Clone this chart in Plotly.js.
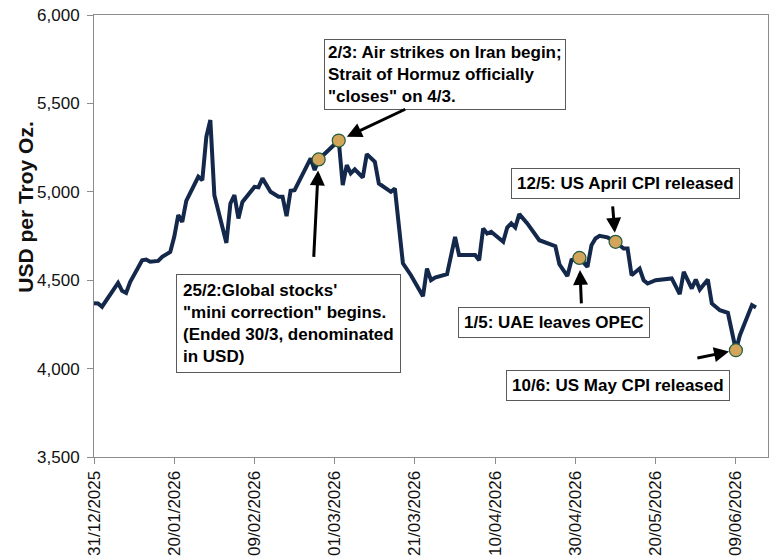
<!DOCTYPE html>
<html>
<head>
<meta charset="utf-8">
<script src="https://cdn.plot.ly/plotly-3.0.1.min.js"></script>
<style>
  html, body { margin: 0; padding: 0; background: #fff; }
  #chart { width: 770px; height: 560px; }
</style>
</head>
<body>
<div id="chart"></div>
<script>
// Gold spot price, USD per troy ounce
const tradeDates = [
  '2025-12-31','2026-01-01','2026-01-02','2026-01-06','2026-01-07','2026-01-08','2026-01-09',
  '2026-01-12','2026-01-13','2026-01-14','2026-01-16','2026-01-17','2026-01-19','2026-01-20',
  '2026-01-21','2026-01-22','2026-01-23','2026-01-26','2026-01-27','2026-01-28','2026-01-29',
  '2026-01-30','2026-02-02','2026-02-03','2026-02-04','2026-02-05','2026-02-06','2026-02-09',
  '2026-02-10','2026-02-11','2026-02-13','2026-02-15','2026-02-16','2026-02-17','2026-02-18',
  '2026-02-19','2026-02-23','2026-02-24','2026-02-25','2026-03-02','2026-03-03','2026-03-04',
  '2026-03-05','2026-03-06','2026-03-08','2026-03-09','2026-03-11','2026-03-12','2026-03-15',
  '2026-03-16','2026-03-18','2026-03-20','2026-03-23','2026-03-24','2026-03-25','2026-03-26',
  '2026-03-29','2026-03-31','2026-04-01','2026-04-05','2026-04-06','2026-04-07','2026-04-08',
  '2026-04-09','2026-04-12','2026-04-13','2026-04-14','2026-04-15','2026-04-16','2026-04-18',
  '2026-04-21','2026-04-25','2026-04-26','2026-04-28','2026-04-29','2026-05-01','2026-05-03',
  '2026-05-04','2026-05-05','2026-05-06','2026-05-08','2026-05-10','2026-05-12','2026-05-13',
  '2026-05-14','2026-05-16','2026-05-17','2026-05-18','2026-05-20','2026-05-24','2026-05-26',
  '2026-05-27','2026-05-29','2026-05-30','2026-05-31','2026-06-02','2026-06-03','2026-06-04',
  '2026-06-05','2026-06-07','2026-06-09','2026-06-10','2026-06-13','2026-06-14'
];
const goldPrice = [
  4370, 4368, 4350, 4485, 4440, 4428, 4490,
  4613, 4617, 4604, 4609, 4632, 4660, 4745,
  4868, 4830, 4949, 5085, 5066, 5311, 5406,
  4981, 4711, 4934, 4981, 4849, 4943, 5028,
  5025, 5076, 5000, 4972, 4972, 4862, 5006,
  5009, 5189, 5123, 5183, 5290, 5038, 5151,
  5104, 5127, 5081, 5213, 5170, 5047, 5000,
  5019, 4595, 4528, 4409, 4566, 4500, 4515,
  4534, 4745, 4642, 4642, 4613, 4792, 4764,
  4774, 4717, 4798, 4821, 4798, 4874, 4821,
  4726, 4692, 4590, 4523, 4613, 4626, 4575,
  4698, 4736, 4751, 4742, 4717, 4679, 4679,
  4528, 4566, 4500, 4481, 4500, 4510, 4421,
  4547, 4453, 4504, 4447, 4504, 4368, 4346,
  4330, 4315, 4104, 4189, 4359, 4346
];

// Highlighted events: the date of the point on the line and its caption
const eventDates = ['2026-03-02', '2026-02-25', '2026-05-01', '2026-05-10', '2026-06-09'];
const eventNotes = [
  '2/3: Air strikes on Iran begin;<br>Strait of Hormuz officially<br>"closes" on 4/3.',
  '25/2:Global stocks\'<br>"mini correction" begins.<br>(Ended 30/3, denominated<br>in USD)',
  '1/5: UAE leaves OPEC',
  '12/5: US April CPI released',
  '10/6: US May CPI released'
];
const eventPrices = eventDates.map(d => goldPrice[tradeDates.indexOf(d)]);

const yTickVals = [3500, 4000, 4500, 5000, 5500, 6000];
const yAxisTitle = 'USD per Troy Oz.';

const FONT = '"Liberation Sans", Arial, Helvetica, sans-serif';
const INK = '#111111';
const FRAME = '#8c8c8c';

const traces = [
  {
    x: tradeDates, y: goldPrice, type: 'scatter', mode: 'lines',
    line: { color: '#14284b', width: 4 }, hoverinfo: 'skip'
  },
  {
    x: eventDates, y: eventPrices, type: 'scatter', mode: 'markers',
    marker: { size: 13, color: '#d3a55a', line: { color: '#1f5a40', width: 1.2 } },
    hoverinfo: 'skip'
  }
];

// Caption boxes (paper coordinates, anchored at a box corner)
const boxPlacement = [
  { x: 0.3412, y: 0.9457, xanchor: 'left',  pad: 3 },
  { x: 0.1217, y: 0.4140, xanchor: 'left',  pad: 6 },
  { x: 0.8249, y: 0.3394, xanchor: 'right', pad: 5 },
  { x: 0.9585, y: 0.6538, xanchor: 'right', pad: 5 },
  { x: 0.9436, y: 0.1968, xanchor: 'right', pad: 5 }
];
// Arrow tails as pixel offsets from the highlighted point
const arrowTail = [
  { ax: 68, ay: -32, standoff: 9 },
  { ax: -5, ay: 99, standoff: 11 },
  { ax: 2, ay: 47, standoff: 12 },
  { ax: -3, ay: -37, standoff: 9 },
  { ax: -40, ay: 8, standoff: 7 }
];

const annotations = [];
eventNotes.forEach((note, i) => {
  const b = boxPlacement[i];
  annotations.push({
    xref: 'paper', yref: 'paper', x: b.x, y: b.y,
    xanchor: b.xanchor, yanchor: 'top', align: 'left',
    text: '<b>' + note + '</b>', showarrow: false,
    font: { family: FONT, size: 17, color: '#000' },
    bgcolor: '#ffffff', bordercolor: '#5a5a5a', borderwidth: 1, borderpad: b.pad
  });
  const t = arrowTail[i];
  annotations.push({
    xref: 'x', yref: 'y', x: eventDates[i], y: eventPrices[i],
    ax: t.ax, ay: t.ay, text: '', showarrow: true,
    arrowhead: 2, arrowsize: 1, arrowwidth: 3, arrowcolor: '#000', standoff: t.standoff
  });
});

// Vertical axis title, set a little above the middle of the plot
annotations.push({
  xref: 'paper', yref: 'paper', x: -0.101, y: 0.566,
  xanchor: 'center', yanchor: 'middle', textangle: -90,
  text: '<b>' + yAxisTitle + '</b>', showarrow: false,
  font: { family: FONT, size: 21, color: INK }
});

const layout = {
  width: 770, height: 560,
  margin: { l: 94, r: 2, t: 15, b: 103 },
  paper_bgcolor: '#ffffff', plot_bgcolor: '#ffffff',
  showlegend: false,
  font: { family: FONT, size: 17, color: INK },
  xaxis: {
    type: 'date',
    range: ['2025-12-31', '2026-06-17'],
    tick0: '2025-12-31', dtick: 20 * 86400000,
    tickformat: '%d/%m/%Y', tickangle: -90,
    ticks: 'outside', ticklen: 6, tickcolor: FRAME,
    showline: true, linecolor: FRAME, linewidth: 1, mirror: true,
    showgrid: false, zeroline: false,
    tickfont: { family: FONT, size: 17, color: INK },
    automargin: false
  },
  yaxis: {
    range: [3500, 6000],
    tickvals: yTickVals, tickformat: ',d',
    ticks: 'outside', ticklen: 6, tickcolor: FRAME,
    showline: true, linecolor: FRAME, linewidth: 1, mirror: true,
    showgrid: false, zeroline: false,
    tickfont: { family: FONT, size: 17, color: INK },
    ticklabelstandoff: 4,
    automargin: false
  },
  annotations: annotations
};

Plotly.newPlot('chart', traces, layout, { displayModeBar: false, staticPlot: true });
</script>
</body>
</html>
